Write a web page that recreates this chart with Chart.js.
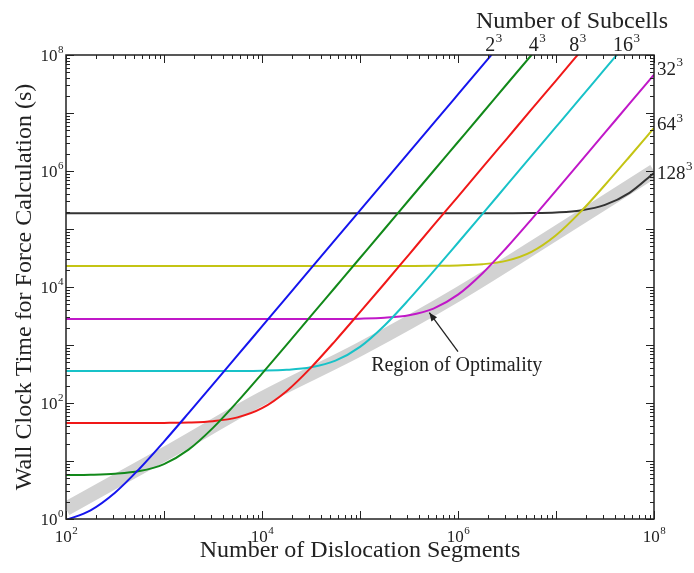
<!DOCTYPE html>
<html>
<head>
<meta charset="utf-8">
<script src="https://cdn.jsdelivr.net/npm/chart.js@4"></script>
<style>
  html, body { margin: 0; padding: 0; background: #fff; }
  canvas { display: block; }
</style>
</head>
<body>
<canvas id="chart" width="694" height="573"></canvas>
<script>
// number of dislocation segments (x), quarter decades
const segments = [1e2, 1.78e2, 3.16e2, 5.62e2, 1e3, 1.78e3, 3.16e3, 5.62e3, 1e4, 1.78e4, 3.16e4, 5.62e4,
  1e5, 1.78e5, 3.16e5, 5.62e5, 1e6, 1.78e6, 3.16e6, 5.62e6, 1e7, 1.78e7, 3.16e7, 5.62e7, 1e8];

// wall clock time (s), one list per subcell count
const cells2 = [0.96, 1.41, 2.84, 7.36, 21.6, 66.9, 210, 661, 2090, 6610, 2.09e4, 6.61e4, 2.09e5, 6.61e5,
  2.09e6, 6.61e6, 2.09e7, 6.61e7, 2.09e8, null, null, null, null, null, null];
const cells4 = [5.73, 5.8, 6.02, 6.7, 8.86, 15.7, 37.3, 105.7, 322, 1006, 3168, 1e4, 3.16e4, 1e5,
  3.16e5, 1e6, 3.16e6, 1e7, 3.16e7, 1e8, 3.16e8, null, null, null, null];
const cells8 = [45, 45, 45.04, 45.1, 45.4, 46.1, 48.6, 56.5, 81.3, 160, 408, 1193, 3676, 1.15e4, 3.63e4,
  1.15e5, 3.63e5, 1.15e6, 3.63e6, 1.15e7, 3.63e7, 1.15e8, null, null, null];
const cells16 = [355, 355, 355, 355, 355.1, 355.2, 355.6, 356.8, 360.8, 373, 412, 537, 930, 2175, 6109,
  1.855e4, 5.79e4, 1.82e5, 5.75e5, 1.82e6, 5.75e6, 1.82e7, 5.75e7, 1.82e8, null];
const cells32 = [2800, 2800, 2800, 2800, 2800, 2800, 2800, 2800, 2800, 2801, 2805, 2814, 2846, 2945, 3257,
  4245, 7371, 1.725e4, 4.85e4, 1.47e5, 4.6e5, 1.45e6, 4.57e6, 1.45e7, 4.57e7];
const cells64 = [2.3e4, 2.3e4, 2.3e4, 2.3e4, 2.3e4, 2.3e4, 2.3e4, 2.3e4, 2.3e4, 2.3e4, 2.3e4, 2.3e4, 2.3e4,
  2.3e4, 2.305e4, 2.317e4, 2.355e4, 2.47e4, 2.85e4, 4.04e4, 7.8e4, 1.97e5, 5.73e5, 1.76e6, 5.52e6];
const cells128 = [1.86e5, 1.86e5, 1.86e5, 1.86e5, 1.86e5, 1.86e5, 1.86e5, 1.86e5, 1.86e5, 1.86e5, 1.86e5,
  1.86e5, 1.86e5, 1.86e5, 1.86e5, 1.86e5, 1.86e5, 1.86e5, 1.867e5, 1.883e5, 1.934e5, 2.09e5, 2.6e5, 4.2e5, 9.27e5];

// region of optimality band
const bandX = [1e2, 1e3, 1e4, 1e5, 1e6, 1e7, 1e8];
const bandY = [1.5, 13, 120, 850, 7500, 8.5e4, 1e6];

// labels
const xTickExps = [2, 4, 6, 8];
const yTickExps = [0, 2, 4, 6, 8];
const topCells = ['2', '4', '8', '16'];
const topCellsX = [2.3e6, 6.4e6, 1.66e7, 5.2e7];
const sideCells = ['32', '64', '128'];
const sideCellsY = [6e7, 6.7e6, 9.6e5];
const noteText = [9.7e5, 355];
const noteTail = [1.0e6, 767];
const noteTip = [5.1e5, 3600];

const serif = '"Liberation Serif", "Times New Roman", serif';

function pts(ys) {
  return segments.map((x, i) => ({ x, y: ys[i] })).filter(p => p.y !== null);
}

function curve(ys, color) {
  return {
    data: pts(ys), borderColor: color, borderWidth: 2, pointRadius: 0,
    cubicInterpolationMode: 'monotone', clip: 0, order: 0
  };
}

function sup(ctx, base, exp, x, y, size, align) {
  ctx.font = size + 'px ' + serif;
  const wb = ctx.measureText(base).width;
  const ss = Math.round(size * 0.66);
  ctx.font = ss + 'px ' + serif;
  const we = ctx.measureText(exp).width;
  let x0 = x;
  if (align === 'center') x0 = x - (wb + we) / 2;
  else if (align === 'right') x0 = x - wb - we;
  ctx.textAlign = 'left';
  ctx.textBaseline = 'alphabetic';
  ctx.font = size + 'px ' + serif;
  ctx.fillText(base, x0, y);
  ctx.font = ss + 'px ' + serif;
  ctx.fillText(exp, x0 + wb + 0.5, y - size * 0.45);
}

const decor = {
  id: 'decor',
  afterDatasetsDraw(chart) {
    const { ctx, chartArea: a, scales: { x, y } } = chart;
    ctx.save();
    ctx.fillStyle = '#222';
    ctx.strokeStyle = '#222';

    // ticks on all four sides
    ctx.lineWidth = 1;
    ctx.beginPath();
    for (let d = 2; d <= 8; d++) {
      for (let m = 1; m <= 9; m++) {
        const v = m * Math.pow(10, d);
        if (v > 1e8) break;
        const px = Math.round(x.getPixelForValue(v)) + 0.5;
        const len = m === 1 ? 8 : 4;
        ctx.moveTo(px, a.bottom); ctx.lineTo(px, a.bottom - len);
        ctx.moveTo(px, a.top); ctx.lineTo(px, a.top + len);
      }
    }
    for (let d = 0; d <= 8; d++) {
      for (let m = 1; m <= 9; m++) {
        const v = m * Math.pow(10, d);
        if (v > 1e8) break;
        const py = Math.round(y.getPixelForValue(v)) + 0.5;
        const len = m === 1 ? 8 : 4;
        ctx.moveTo(a.left, py); ctx.lineTo(a.left + len, py);
        ctx.moveTo(a.right, py); ctx.lineTo(a.right - len, py);
      }
    }
    ctx.stroke();

    // frame
    ctx.lineWidth = 1.5;
    ctx.strokeRect(a.left, a.top, a.right - a.left, a.bottom - a.top);

    // tick labels
    xTickExps.forEach(e => sup(ctx, '10', String(e), x.getPixelForValue(Math.pow(10, e)), a.bottom + 23, 17, 'center'));
    yTickExps.forEach(e => sup(ctx, '10', String(e), a.left - 3, y.getPixelForValue(Math.pow(10, e)) + 6, 17, 'right'));

    // axis titles
    ctx.font = '24px ' + serif;
    ctx.textAlign = 'center';
    ctx.textBaseline = 'alphabetic';
    ctx.fillText('Number of Dislocation Segments', (a.left + a.right) / 2, 557);
    ctx.fillText('Number of Subcells', 572, 28);
    ctx.save();
    ctx.translate(31, (a.top + a.bottom) / 2);
    ctx.rotate(-Math.PI / 2);
    ctx.fillText('Wall Clock Time for Force Calculation (s)', 0, 0);
    ctx.restore();

    // subcell labels
    topCells.forEach((t, i) => sup(ctx, t, '3', x.getPixelForValue(topCellsX[i]), a.top - 4, 20, 'center'));
    sideCells.forEach((t, i) => sup(ctx, t, '3', a.right + 3, y.getPixelForValue(sideCellsY[i]) + 7, 19, 'left'));

    // annotation
    ctx.font = '20px ' + serif;
    ctx.textAlign = 'center';
    ctx.fillText('Region of Optimality', x.getPixelForValue(noteText[0]), y.getPixelForValue(noteText[1]));
    const tx = x.getPixelForValue(noteTail[0]), ty = y.getPixelForValue(noteTail[1]);
    const hx = x.getPixelForValue(noteTip[0]), hy = y.getPixelForValue(noteTip[1]);
    ctx.lineWidth = 1.3;
    ctx.beginPath();
    ctx.moveTo(tx, ty); ctx.lineTo(hx, hy);
    ctx.stroke();
    const ang = Math.atan2(hy - ty, hx - tx);
    ctx.beginPath();
    ctx.moveTo(hx, hy);
    ctx.lineTo(hx - 9 * Math.cos(ang - 0.4), hy - 9 * Math.sin(ang - 0.4));
    ctx.lineTo(hx - 9 * Math.cos(ang + 0.4), hy - 9 * Math.sin(ang + 0.4));
    ctx.closePath();
    ctx.fill();
    ctx.restore();
  }
};

new Chart(document.getElementById('chart'), {
  type: 'line',
  data: {
    datasets: [
      curve(cells2, '#1515ee'),
      curve(cells4, '#12891a'),
      curve(cells8, '#f01818'),
      curve(cells16, '#18c2c8'),
      curve(cells32, '#c018c8'),
      curve(cells64, '#c4c414'),
      curve(cells128, '#333333'),
      {
        data: bandX.map((v, i) => ({ x: v, y: bandY[i] })),
        borderColor: '#d2d2d2', borderWidth: 14, pointRadius: 0,
        cubicInterpolationMode: 'monotone',
        borderCapStyle: 'butt', clip: 0, order: 1
      }
    ]
  },
  options: {
    responsive: false,
    animation: false,
    layout: { padding: { left: 66, top: 55, right: 40, bottom: 54 } },
    scales: {
      x: { type: 'logarithmic', min: 1e2, max: 1e8, display: false },
      y: { type: 'logarithmic', min: 1, max: 1e8, display: false }
    },
    plugins: { legend: { display: false }, tooltip: { enabled: false } }
  },
  plugins: [decor]
});
</script>
</body>
</html>
